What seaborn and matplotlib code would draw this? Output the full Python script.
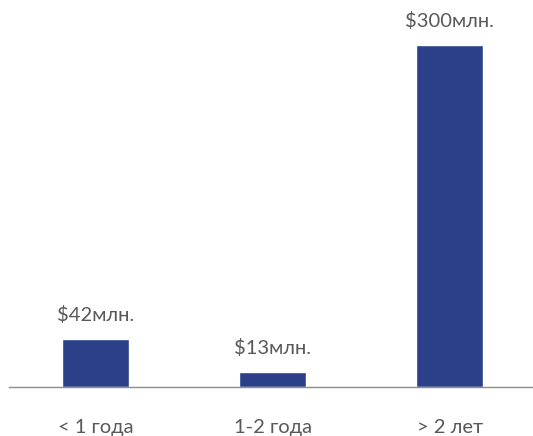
import matplotlib
matplotlib.use("Agg")
import matplotlib.pyplot as plt
import seaborn as sns
import pandas as pd

categories = ["< 1 года", "1-2 года", "> 2 лет"]
values = [42, 13, 300]
value_labels = ["$42млн.", "$13млн.", "$300млн."]

sns.set_theme(style="white")
plt.rcParams["font.family"] = ["Lato", "DejaVu Sans"]

df = pd.DataFrame({"period": categories, "amount": values})

fig = plt.figure(figsize=(5.33, 4.36), dpi=100)
ax = fig.add_axes([9 / 533, (436 - 387) / 436, 1 - 9 / 533, 342 / 436])

sns.barplot(data=df, x="period", y="amount", color="#2A4189", width=0.38,
            saturation=1, ax=ax)

ax.set_ylim(0, 300)
ax.set_xlim(-0.49, 2.47)
ax.set_xlabel("")
ax.set_ylabel("")
ax.set_yticks([])
for side in ["left", "right", "top"]:
    ax.spines[side].set_visible(False)
ax.spines["bottom"].set_color("#8c8c8c")
ax.spines["bottom"].set_linewidth(1.0)
ax.tick_params(axis="x", length=0, pad=23, labelsize=14.5, labelcolor="#595959")

for patch, lab in zip(ax.patches, value_labels):
    ax.annotate(lab, (patch.get_x() + patch.get_width() / 2, patch.get_height()),
                xytext=(0, 11), textcoords="offset points", ha="center", va="bottom",
                fontsize=14.5, color="#595959", annotation_clip=False)

fig.savefig("out.png", dpi=100)
